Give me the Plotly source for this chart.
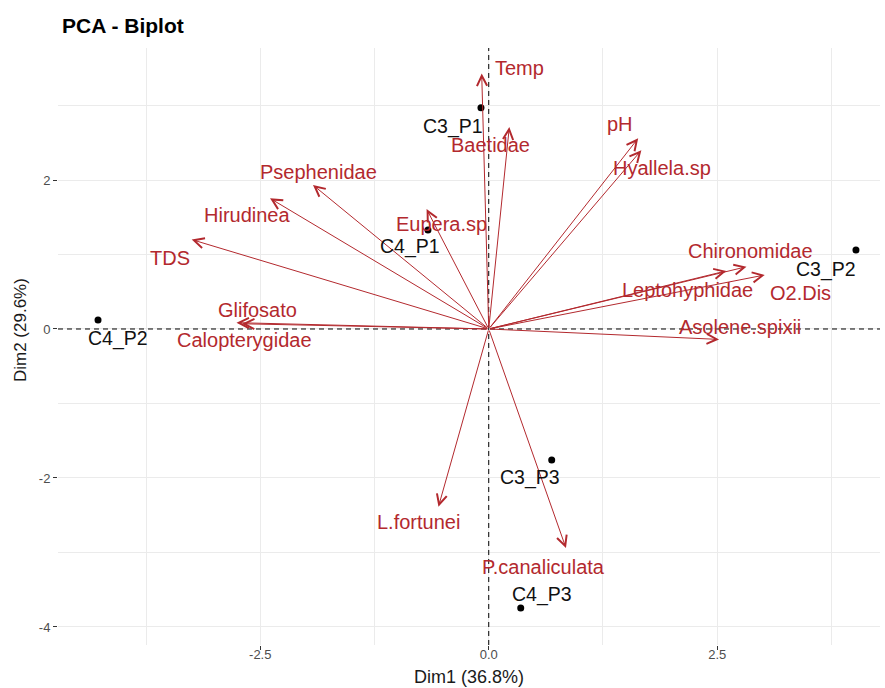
import plotly.graph_objects as go

# ---------------- data ----------------
var_names = ["Temp", "Baetidae", "pH", "Hyallela.sp", "Psephenidae", "Hirudinea",
             "TDS", "Eupera.sp", "Glifosato", "Calopterygidae", "Chironomidae",
             "Leptohyphidae", "O2.Dis", "Asolene.spixii", "L.fortunei", "P.canaliculata"]
var_dim1 = [-0.077, 0.225, 1.635, 1.67, -1.923, -2.393, -3.25, -0.68, -2.76, -2.70,
            2.82, 2.60, 3.02, 2.52, -0.55, 0.845]
var_dim2 = [3.43, 2.71, 2.56, 2.40, 1.933, 1.754, 1.20, 1.61, 0.085, 0.07,
            0.836, 0.78, 0.725, -0.14, -2.385, -2.94]

ind_names = ["C3_P1", "C4_P1", "C3_P2", "C4_P2", "C3_P3", "C4_P3"]
ind_dim1 = [-0.085, -0.665, 4.018, -4.275, 0.689, 0.35]
ind_dim2 = [2.97, 1.33, 1.06, 0.12, -1.758, -3.745]

x_tickvals = [-2.5, 0.0, 2.5]
x_ticktext = ["-2.5", "0.0", "2.5"]
y_tickvals = [-4, -2, 0, 2]
y_ticktext = ["-4", "-2", "0", "2"]

title_text = "PCA - Biplot"
x_title = "Dim1 (36.8%)"
y_title = "Dim2 (29.6%)"

# ---------------- style / label nudges ----------------
VAR_NUDGE = {
    "Temp": (0.417, 0.08), "Baetidae": (-0.21, -0.24), "pH": (-0.2, 0.19),
    "Hyallela.sp": (0.225, -0.24), "Psephenidae": (0.055, 0.174),
    "Hirudinea": (-0.252, -0.224), "TDS": (-0.237, -0.247), "Eupera.sp": (0.16, -0.2),
    "Glifosato": (0.235, 0.17), "Calopterygidae": (0.03, -0.22),
    "Chironomidae": (0.04, 0.21), "Leptohyphidae": (-0.42, -0.25),
    "O2.Dis": (0.39, -0.24), "Asolene.spixii": (0.23, 0.17),
    "L.fortunei": (-0.22, -0.2), "P.canaliculata": (-0.25, -0.255),
}
IND_NUDGE = {
    "C3_P1": (-0.305, -0.245), "C4_P1": (-0.195, -0.216), "C3_P2": (-0.33, -0.255),
    "C4_P2": (0.22, -0.254), "C3_P3": (-0.24, -0.24), "C4_P3": (0.233, 0.175),
}
RED = "#B3292E"
FONT = "Liberation Sans, Arial, sans-serif"

fig = go.Figure()

fig.add_trace(go.Scatter(
    x=ind_dim1, y=ind_dim2, mode="markers",
    marker=dict(color="black", size=7), hoverinfo="text", text=ind_names,
    showlegend=False,
))

annotations = []
for n, x, y in zip(var_names, var_dim1, var_dim2):
    annotations.append(dict(
        x=x, y=y, ax=0, ay=0, xref="x", yref="y", axref="x", ayref="y",
        text="", showarrow=True, arrowhead=5, arrowsize=2.0, arrowwidth=1,
        arrowcolor=RED, standoff=0, startstandoff=0,
    ))
for n, x, y in zip(var_names, var_dim1, var_dim2):
    dx, dy = VAR_NUDGE[n]
    annotations.append(dict(
        x=x + dx, y=y + dy, xref="x", yref="y", text=n, showarrow=False,
        xanchor="center", yanchor="middle",
        font=dict(family=FONT, size=20, color=RED),
    ))
for n, x, y in zip(ind_names, ind_dim1, ind_dim2):
    dx, dy = IND_NUDGE[n]
    annotations.append(dict(
        x=x + dx, y=y + dy, xref="x", yref="y", text=n, showarrow=False,
        xanchor="center", yanchor="middle",
        font=dict(family=FONT, size=19.5, color="#111111"),
    ))

# axis titles
annotations.append(dict(
    x=0.4997, y=-32 / 597, xref="paper", yref="paper", text=x_title,
    showarrow=False, xanchor="center", yanchor="middle",
    font=dict(family=FONT, size=18, color="#1A1A1A"),
))
annotations.append(dict(
    x=-38 / 822, y=0.5276, xref="paper", yref="paper", text=y_title,
    showarrow=False, xanchor="center", yanchor="middle", textangle=-90,
    font=dict(family=FONT, size=17, color="#1A1A1A"),
))

shapes = [
    dict(type="line", xref="x", yref="paper", x0=0, x1=0, y0=0, y1=1,
         line=dict(color="black", width=1, dash="5px,4px"), layer="above"),
    dict(type="line", xref="paper", yref="y", x0=0, x1=1, y0=0, y1=0,
         line=dict(color="black", width=1, dash="5px,4px"), layer="above"),
]

grid_col = "#EBEBEB"
fig.update_layout(
    width=885, height=688,
    margin=dict(l=58, r=5, t=48, b=43, autoexpand=False),
    paper_bgcolor="white", plot_bgcolor="white",
    font=dict(family=FONT, color="#4D4D4D"),
    title=dict(text="<b>" + title_text + "</b>", x=62 / 885, xanchor="left",
               y=1 - 26 / 688, yanchor="middle",
               font=dict(family=FONT, size=21, color="black")),
    annotations=annotations,
    shapes=shapes,
    xaxis=dict(
        range=[-4.713, 4.281], tickvals=x_tickvals, ticktext=x_ticktext,
        showgrid=True, gridcolor=grid_col, gridwidth=1, zeroline=False,
        showline=False, ticks="outside", ticklen=4, tickcolor="#333333",
        tickfont=dict(size=13, color="#4D4D4D"), automargin=False,
        ticklabelstandoff=-7,
        minor=dict(tickvals=[-3.75, -1.25, 1.25, 3.75], showgrid=True,
                   gridcolor=grid_col, gridwidth=1, ticks=""),
    ),
    yaxis=dict(
        range=[-4.242, 3.772], tickvals=y_tickvals, ticktext=y_ticktext,
        showgrid=True, gridcolor=grid_col, gridwidth=1, zeroline=False,
        showline=False, ticks="outside", ticklen=4, tickcolor="#333333",
        tickfont=dict(size=13, color="#4D4D4D"), automargin=False,
        minor=dict(tickvals=[-3, -1, 1, 3], showgrid=True,
                   gridcolor=grid_col, gridwidth=1, ticks=""),
    ),
)

fig.write_html("out.html", config={"displayModeBar": False},
               post_script="document.body.style.margin='0';")
